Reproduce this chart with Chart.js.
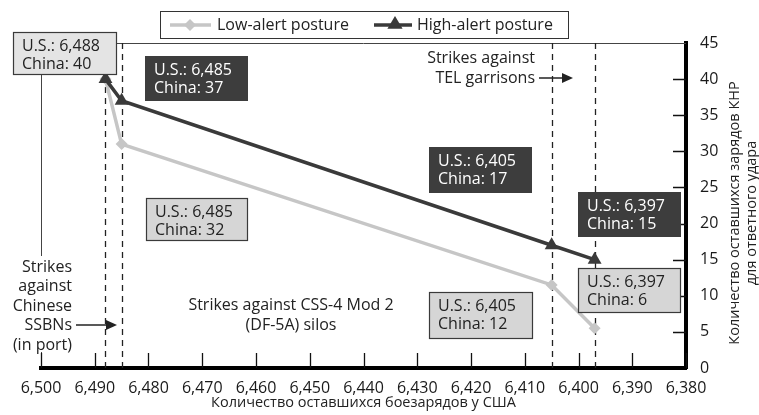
<!DOCTYPE html>
<html>
<head>
<meta charset="utf-8">
<script src="https://cdn.jsdelivr.net/npm/chart.js@4.4.1/dist/chart.umd.min.js"></script>
<style>
  html, body { margin: 0; padding: 0; background: #fff; }
  #chart { display: block; }
</style>
</head>
<body>
<canvas id="chart" width="759" height="415"></canvas>
<script>
// Data
const usWarheads = [6488, 6485, 6405, 6397];
const lowAlert = [40, 31, 11.5, 5.5];
const highAlert = [40, 37, 17, 15];
const lowLabels = ['40', '32', '12', '6'];
const highLabels = ['40', '37', '17', '15'];
const usLabels = ['6,488', '6,485', '6,405', '6,397'];
const xMin = 6380, xMax = 6500, xStep = 10;
const yMin = 0, yMax = 45, yStep = 5;

const LOW = '#c6c6c6';
const HIGH = '#3a3a3a';
const FONT = "'Open Sans', sans-serif";

Chart.defaults.font.family = FONT;
Chart.defaults.color = '#1a1a1a';

// callout boxes: which label, dark/light, where
const boxes = [
    { us: 0, china: lowLabels[0], dark: false, fill: '#e4e4e4', x: 13, y: 32, w: 104, h: 43 },
    { us: 1, china: highLabels[1], dark: true, x: 145, y: 56, w: 103, h: 45 },
    { us: 1, china: lowLabels[1], dark: false, fill: '#d6d6d6', x: 146, y: 198, w: 102, h: 43 },
    { us: 2, china: highLabels[2], dark: true, x: 429, y: 147, w: 103, h: 46 },
    { us: 3, china: highLabels[3], dark: true, x: 578, y: 192, w: 103, h: 45 },
    { us: 3, china: lowLabels[3], dark: false, fill: '#d6d6d6', x: 578, y: 268, w: 103, h: 45 },
    { us: 2, china: lowLabels[2], dark: false, fill: '#d6d6d6', x: 429, y: 292, w: 104, h: 47 }
];

function fmt(v) {
    return v.toLocaleString('en-US');
}

function arrow(ctx, x1, x2, y) {
    ctx.beginPath();
    ctx.moveTo(x1, y);
    ctx.lineTo(x2 - 8, y);
    ctx.stroke();
    ctx.beginPath();
    ctx.moveTo(x2, y);
    ctx.lineTo(x2 - 11, y - 5);
    ctx.lineTo(x2 - 11, y + 5);
    ctx.closePath();
    ctx.fill();
}

function diamond(ctx, x, y, r, color) {
    ctx.fillStyle = color;
    ctx.beginPath();
    ctx.moveTo(x, y - r);
    ctx.lineTo(x + r, y);
    ctx.lineTo(x, y + r);
    ctx.lineTo(x - r, y);
    ctx.closePath();
    ctx.fill();
}

function triangle(ctx, x, y, r, color) {
    ctx.fillStyle = color;
    ctx.beginPath();
    ctx.moveTo(x, y - r);
    ctx.lineTo(x + r * 0.95, y + r * 0.6);
    ctx.lineTo(x - r * 0.95, y + r * 0.6);
    ctx.closePath();
    ctx.fill();
}

const extras = {
    id: 'extras',
    beforeDatasetsDraw(chart) {
        const { ctx, chartArea: a, scales: { x, y } } = chart;
        ctx.save();

        // thin top and left frame
        ctx.strokeStyle = '#444';
        ctx.lineWidth = 1;
        ctx.beginPath();
        ctx.moveTo(a.left, a.top + 0.5);
        ctx.lineTo(a.right, a.top + 0.5);
        ctx.moveTo(a.left + 0.5, a.top);
        ctx.lineTo(a.left + 0.5, a.bottom);
        ctx.stroke();

        // inward tick marks
        ctx.strokeStyle = '#111';
        ctx.lineWidth = 1.3;
        ctx.beginPath();
        x.ticks.forEach(t => {
            const px = Math.round(x.getPixelForValue(t.value)) + 0.5;
            ctx.moveTo(px, a.bottom);
            ctx.lineTo(px, a.bottom - 15);
        });
        y.ticks.forEach(t => {
            if (t.value === yMin || t.value === yMax) return;
            const py = Math.round(y.getPixelForValue(t.value)) + 0.5;
            ctx.moveTo(a.right, py);
            ctx.lineTo(a.right - 13, py);
        });
        ctx.stroke();

        // dashed markers at each strike stage
        ctx.setLineDash([6, 5]);
        ctx.strokeStyle = '#222';
        ctx.lineWidth = 1.3;
        usWarheads.forEach(v => {
            const px = Math.round(x.getPixelForValue(v)) + 0.5;
            ctx.beginPath();
            ctx.moveTo(px, a.top);
            ctx.lineTo(px, a.bottom);
            ctx.stroke();
        });
        ctx.restore();
    },
    afterDatasetsDraw(chart) {
        const { ctx, chartArea: a } = chart;
        ctx.save();

        // callout boxes
        ctx.font = '16px ' + FONT;
        ctx.textBaseline = 'middle';
        ctx.textAlign = 'left';
        boxes.forEach(b => {
            ctx.fillStyle = b.dark ? '#3d3d3d' : b.fill;
            ctx.fillRect(b.x, b.y, b.w, b.h);
            if (!b.dark) {
                ctx.strokeStyle = '#3a3a3a';
                ctx.lineWidth = 1.2;
                ctx.strokeRect(b.x + 0.5, b.y + 0.5, b.w - 1, b.h - 1);
            }
            ctx.fillStyle = b.dark ? '#ffffff' : '#222';
            ctx.fillText('U.S.: ' + usLabels[b.us], b.x + 9, b.y + 14);
            ctx.fillText('China: ' + b.china, b.x + 9, b.y + 32);
        });

        // left note
        ctx.fillStyle = '#fff';
        ctx.fillRect(0, 256, 79, 96);
        ctx.fillStyle = '#222';
        ctx.strokeStyle = '#222';
        ctx.lineWidth = 1.5;
        ctx.textAlign = 'right';
        ['Strikes', 'against', 'Chinese', 'SSBNs'].forEach((s, i) => {
            ctx.fillText(s, 72, 267 + i * 19.5);
        });
        ctx.fillText('(in port)', 72, 345);
        arrow(ctx, 76, 117, 325);

        // TEL note
        ctx.fillText('Strikes against', 535, 58);
        ctx.fillText('TEL garrisons', 535, 78);
        arrow(ctx, 539, 573, 78);

        // silos note
        ctx.textAlign = 'center';
        ctx.fillText('Strikes against CSS-4 Mod 2', 291, 305);
        ctx.fillText('(DF-5A) silos', 291, 325);

        // legend
        ctx.fillStyle = '#fff';
        ctx.fillRect(160, 11, 409, 28);
        ctx.strokeStyle = '#333';
        ctx.lineWidth = 1;
        ctx.strokeRect(160.5, 11.5, 408, 27);
        ctx.lineWidth = 3.5;
        ctx.strokeStyle = LOW;
        ctx.beginPath();
        ctx.moveTo(170, 25);
        ctx.lineTo(211, 25);
        ctx.stroke();
        diamond(ctx, 190, 25, 6, LOW);
        ctx.strokeStyle = HIGH;
        ctx.beginPath();
        ctx.moveTo(374, 25);
        ctx.lineTo(412, 25);
        ctx.stroke();
        triangle(ctx, 395, 24, 8, HIGH);
        ctx.fillStyle = '#222';
        ctx.textAlign = 'left';
        ctx.fillText('Low-alert posture', 217, 25);
        ctx.fillText('High-alert posture', 417, 25);

        // axis titles
        ctx.font = '14.5px ' + FONT;
        ctx.textAlign = 'center';
        ctx.fillText('Количество оставшихся боезарядов у США', (a.left + a.right) / 2, 403);
        ctx.translate(743, 213);
        ctx.rotate(-Math.PI / 2);
        ctx.fillText('Количество оставшихся зарядов КНР', 0, -8);
        ctx.fillText('для ответного удара', 0, 9);
        ctx.restore();
    }
};

const ctx = document.getElementById('chart').getContext('2d');
const chart = new Chart(ctx, {
    type: 'scatter',
    data: {
        datasets: [
            {
                label: 'High-alert posture',
                data: usWarheads.map((v, i) => ({ x: v, y: highAlert[i] })),
                showLine: true,
                borderColor: HIGH,
                backgroundColor: HIGH,
                borderWidth: 3.5,
                pointStyle: 'triangle',
                pointRadius: 8,
                pointBorderWidth: 0,
                order: 1
            },
            {
                label: 'Low-alert posture',
                data: usWarheads.map((v, i) => ({ x: v, y: lowAlert[i] })),
                showLine: true,
                borderColor: LOW,
                backgroundColor: LOW,
                borderWidth: 3.5,
                pointStyle: 'rectRot',
                pointRadius: 6,
                pointBorderWidth: 0,
                order: 2
            }
        ]
    },
    options: {
        responsive: false,
        animation: false,
        devicePixelRatio: 1,
        layout: { padding: { top: 43, left: 41, right: 0, bottom: 0 } },
        plugins: {
            legend: { display: false },
            tooltip: { enabled: false }
        },
        scales: {
            x: {
                type: 'linear',
                reverse: true,
                min: xMin,
                max: xMax,
                afterFit: s => { s.height = 47; },
                grid: { display: false },
                border: { display: true, color: '#000', width: 4 },
                ticks: {
                    stepSize: xStep,
                    padding: 3,
                    maxRotation: 0,
                    autoSkip: false,
                    color: '#1a1a1a',
                    font: { size: 16 },
                    callback: v => fmt(v)
                }
            },
            y: {
                position: 'right',
                min: yMin,
                max: yMax,
                afterFit: s => { s.width = 73; },
                grid: { display: false },
                border: { display: true, color: '#000', width: 4 },
                ticks: {
                    stepSize: yStep,
                    padding: 6,
                    color: '#1a1a1a',
                    font: { size: 16 }
                }
            }
        }
    },
    plugins: [extras]
});
</script>
</body>
</html>
